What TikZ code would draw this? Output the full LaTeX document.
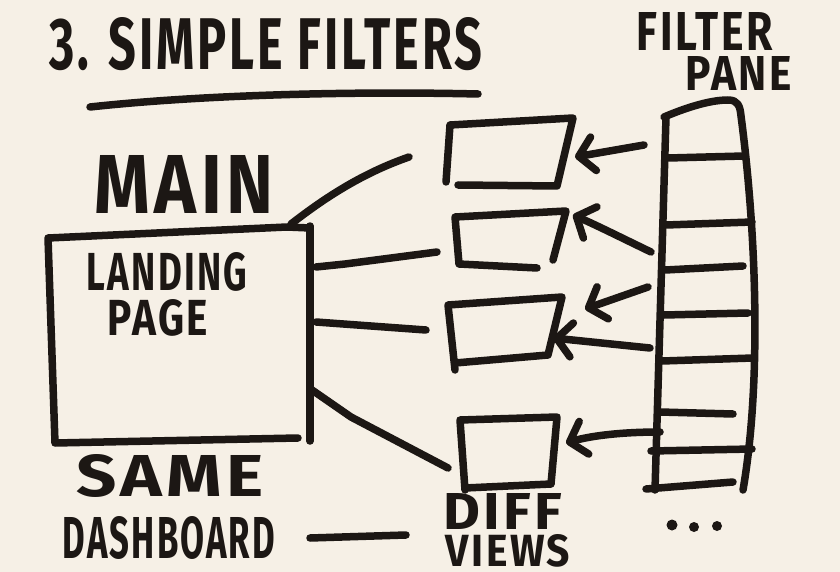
\documentclass[tikz,border=0pt]{standalone}
\usepackage{fontspec}
\usepackage{graphicx}
\setmainfont{Fira Sans}
\newfontfamily\handfont[LetterSpace=6]{Fira Sans}
\usetikzlibrary{arrows.meta}
\definecolor{ink}{HTML}{1C1714}
\definecolor{paper}{HTML}{F6F0E6}
\newcommand\fitbox[3]{\resizebox{#1pt}{#2pt}{\handfont\bfseries #3}}
\begin{document}
\begin{tikzpicture}[x=1pt,y=-1pt,
  pen/.style={draw=ink,line width=7.5pt,line cap=round,line join=round},
  lbl/.style={inner sep=0pt,text=ink},
  barb/.style={pen,-{Straight Barb[length=15pt,width=34pt,round]}},
  ]
\fill[paper] (0,0) rectangle (840,572);
\useasboundingbox (0,0) rectangle (840,572);

% ---- texts ----
\node[lbl] (title) at (266,44) {\fitbox{433}{52}{3. SIMPLE FILTERS}};
\node[lbl] (filter) at (705,32) {\fitbox{136}{38}{FILTER}};
\node[lbl] (pane) at (739,74) {\fitbox{106}{34}{PANE}};
\node[lbl] (mainlbl) at (184,184) {\fitbox{178}{58}{MAIN}};
\node[lbl] (landing) at (167,272) {\fitbox{160}{38}{LANDING}};
\node[lbl] (page) at (158,318) {\fitbox{100}{36}{PAGE}};
\node[lbl] (same) at (170,476) {\fitbox{187}{42}{SAME}};
\node[lbl] (dash) at (169,538) {\fitbox{212}{42}{DASHBOARD}};
\node[lbl] (diff) at (503,511) {\fitbox{119}{36}{DIFF}};
\node[lbl] (views) at (508,551) {\fitbox{124}{32}{VIEWS}};

% ---- title underline ----
\draw[pen] (90,107) .. controls (200,95) and (350,91) .. (478,94);

% ---- main landing page box ----
\draw[pen] (310,228) -- (287,227) -- (48,238) -- (55,443) -- (298,438);
\draw[pen] (310,226) -- (310,441);

% ---- four view boxes ----
\draw[pen] (446,182) -- (450,125) -- (573,118) -- (557,186) -- (458,185);
\draw[pen] (553,260) -- (566,211) -- (455,217) -- (459,264) -- (537,268);
\draw[pen] (455,370) -- (448,305) -- (562,297) -- (548,355) -- (455,363);
\draw[pen] (465,490) -- (460,420) -- (557,417) -- (551,484) -- (465,488);

% ---- filter pane ----
\draw[pen] (666,117) -- (655,490);
\draw[pen] (664,117) .. controls (690,106) and (712,100) .. (728,100)
  .. controls (738,100) and (740,106) .. (741,116)
  .. controls (756,230) and (762,380) .. (743,490);
\draw[pen] (646,489) -- (733,482);
\draw[pen] (668,158) -- (744,156);
\draw[pen] (666,225) -- (752,222);
\draw[pen] (665,270) -- (743,266);
\draw[pen] (664,315) -- (748,313);
\draw[pen] (662,361) -- (753,358);
\draw[pen] (660,412) -- (733,414);
\draw[pen] (651,451) -- (752,449);
\fill[ink] (672,525) circle (5.5) (694,527) circle (5) (717,526) circle (5);

% ---- connector ends ----
\coordinate (m1) at (291,224); \coordinate (v1) at (409,157);
\coordinate (m2) at (316,267); \coordinate (v2) at (437,252);
\coordinate (m3) at (316,322); \coordinate (v3) at (426,330);
\coordinate (m4) at (312,390); \coordinate (v4) at (448,468);
\coordinate (d1) at (310,538); \coordinate (d2) at (406,535);

\draw[pen] (m1) .. controls (322,200) and (360,174) .. (v1);
\draw[pen] (m2) -- (345,264) -- (v2);
\draw[pen] (m3) -- (v3);
\draw[pen] (m4) -- (351,417) -- (v4);
\draw[pen] (d1) -- (d2);

% ---- arrows from the filter pane ----
\coordinate (f1) at (644,145); \coordinate (t1) at (575,157);
\coordinate (f2) at (651,252); \coordinate (t2) at (573,215);
\coordinate (f3) at (648,287); \coordinate (t3) at (585,309);
\coordinate (f4) at (650,348); \coordinate (t4) at (553,338);
\coordinate (f5) at (660,432); \coordinate (t5) at (566,443);
\draw[barb] (f1) -- (t1);
\draw[barb] (f2) .. controls (622,238) and (596,225) .. (t2);
\draw[barb] (f3) -- (t3);
\draw[barb] (f4) -- (t4);
\draw[barb] (f5) .. controls (620,432) and (590,436) .. (t5);
\end{tikzpicture}
\end{document}
